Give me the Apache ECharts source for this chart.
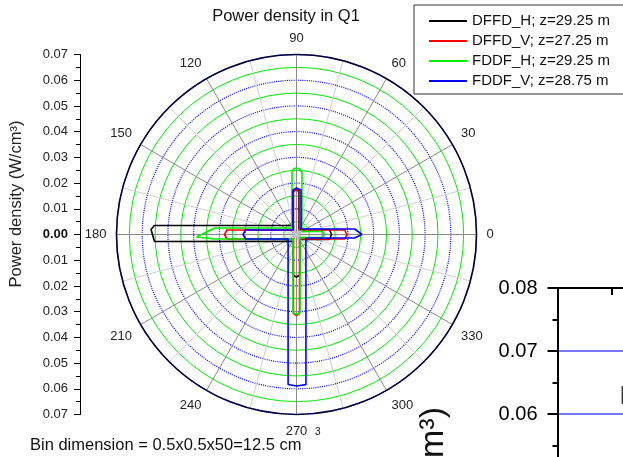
<!DOCTYPE html>
<html>
<head>
<meta charset="utf-8">
<script src="https://cdn.jsdelivr.net/npm/echarts@6/dist/echarts.min.js"></script>
<style>
html,body{margin:0;padding:0;background:#fff;}
#c{width:623px;height:457px;}
</style>
</head>
<body>
<div id="c"></div>
<script>
// ---- data: [angle (deg), power density (W/cm3)] ----
const seriesNames = ['DFFD_H; z=29.25 m', 'DFFD_V; z=27.25 m', 'FDDF_H; z=29.25 m', 'FDDF_V; z=28.75 m'];
const seriesColors = ['#000000', '#ff0000', '#00ee00', '#0000ff'];
const dffdH = [[0,0.0136],[8.6,0.0130],[63.4,0.0022],[86.7,0.0168],[90,0.0173],[95.3,0.0168],[114,0.0038],[176.4,0.0554],[178,0.0566],[182.8,0.0553],[243.4,0.0030],[265.1,0.0158],[270,0.0165],[274.9,0.0158],[305,0.0024],[351.4,0.0130],[360,0.0136]];
const dffdV = [[0,0.0196],[5.4,0.0188],[56.3,0.0021],[86.1,0.0170],[90,0.0177],[93.9,0.0170],[123.7,0.0021],[176.3,0.0271],[180,0.0280],[183.7,0.0271],[236.3,0.0021],[267.8,0.0308],[270,0.0315],[272.2,0.0308],[303.7,0.0021],[354.6,0.0188],[360,0.0196]];
const fddfH = [[0,0.0109],[6.6,0.0102],[28.6,0.0024],[84.9,0.0242],[87.4,0.0255],[90,0.0259],[92.6,0.0255],[94.1,0.0242],[124.7,0.0031],[175.5,0.0320],[181.4,0.0389],[183.1,0.0319],[232.1,0.0022],[267.4,0.0304],[270,0.0311],[272.6,0.0304],[319.4,0.0018],[353.4,0.0102],[360,0.0109]];
const fddfV = [[0,0.0255],[5.4,0.0227],[50.7,0.0028],[84.2,0.0174],[90,0.0181],[94.5,0.0174],[127.9,0.0022],[175,0.0199],[180,0.0208],[185,0.0199],[207.9,0.0037],[266.8,0.0584],[270,0.0589],[273.6,0.0585],[339.8,0.0039],[356.5,0.0226],[360,0.0255]];
const allSeries = [dffdH, dffdV, fddfH, fddfV];
const titleText = 'Power density in Q1';
const yName = 'Power density (W/cm\u00b3)';
const noteText = 'Bin dimension = 0.5x0.5x50=12.5 cm';

const FONT = "'Liberation Sans', Arial, sans-serif";
const chart = echarts.init(document.getElementById('c'), null, {renderer: 'canvas'});

const series = allSeries.map((d, i) => ({
  name: seriesNames[i],
  type: 'line',
  coordinateSystem: 'polar',
  polarIndex: 0,
  symbol: 'none',
  smooth: false,
  data: d.map(p => [p[1], p[0]]),
  lineStyle: {color: seriesColors[i], width: 1.6},
  itemStyle: {color: seriesColors[i]},
  z: 5 + i
}));

const option = {
  animation: false,
  backgroundColor: '#ffffff',
  textStyle: {fontFamily: FONT},
  legend: {
    orient: 'vertical', left: 414, top: 5,
    padding: [8.5, 20, 5.5, 15],
    itemGap: 5, itemWidth: 38, itemHeight: 2, icon: 'rect',
    borderColor: '#333', borderWidth: 1,
    textStyle: {fontSize: 15, color: '#111', lineHeight: 15, fontFamily: FONT},
    data: seriesNames
  },
  polar: {center: [296.5, 234.5], radius: 180},
  angleAxis: {
    type: 'value', min: 0, max: 360, interval: 30,
    startAngle: 0, clockwise: false,
    axisLine: {show: true, lineStyle: {color: '#00003a', width: 1.6}},
    axisTick: {show: false},
    axisLabel: {margin: 10, fontSize: 13, color: '#222', fontFamily: FONT,
      formatter: v => (v >= 360 ? '' : String(v))},
    splitLine: {show: true, lineStyle: {color: '#8a8a8a', width: 1}},
    minorTick: {show: false, splitNumber: 2},
    minorSplitLine: {show: true, lineStyle: {color: '#d0d0d0', width: 1}}
  },
  radiusAxis: {
    type: 'value', min: 0, max: 0.07, interval: 0.01,
    axisLine: {show: false}, axisTick: {show: false}, axisLabel: {show: false},
    splitLine: {show: true, lineStyle: {color: '#0000ff', width: 1.2, type: [1, 1.2]}},
    minorTick: {show: false, splitNumber: 2},
    minorSplitLine: {show: true, lineStyle: {color: '#00ee00', width: 1}}
  },
  grid: [
    {left: 80, top: 54.5, width: 1, height: 360, containLabel: false, outerBoundsMode: 'none'},
    {left: 557.5, top: 288, width: 218, height: 189, containLabel: false, outerBoundsMode: 'none'}
  ],
  xAxis: [
    {gridIndex: 0, type: 'value', show: false},
    {gridIndex: 1, type: 'value', position: 'top', min: 0, max: 4, interval: 1,
      axisLine: {show: true, onZero: false, lineStyle: {color: '#000', width: 2}},
      axisTick: {show: true, inside: true, length: 7, lineStyle: {color: '#000', width: 2}},
      axisLabel: {show: false}, splitLine: {show: false}}
  ],
  yAxis: [
    {gridIndex: 0, type: 'value', min: -0.07, max: 0.07, interval: 0.01,
      axisLine: {show: true, onZero: false, lineStyle: {color: '#000', width: 1}},
      axisTick: {show: true, length: 6, lineStyle: {color: '#000'}},
      minorTick: {show: true, splitNumber: 2, length: 4, lineStyle: {color: '#000'}},
      splitLine: {show: false},
      axisLabel: {margin: 12, fontSize: 13, color: '#222', fontFamily: FONT,
        formatter: v => (Math.abs(v) < 1e-9 ? '{b|0.00}' : Math.abs(v).toFixed(2)),
        rich: {b: {fontWeight: 'bold', fontSize: 13, color: '#111', fontFamily: FONT}}}
    },
    {gridIndex: 1, type: 'value', min: 0.05, max: 0.08, interval: 0.01,
      axisLine: {show: true, onZero: false, lineStyle: {color: '#000', width: 2}},
      axisTick: {show: true, length: 10, lineStyle: {color: '#000', width: 2}},
      minorTick: {show: true, splitNumber: 2, length: 5, lineStyle: {color: '#000', width: 2}},
      splitLine: {show: true, lineStyle: {color: '#7878ff', width: 2}},
      axisLabel: {margin: 20, fontSize: 20, color: '#000', fontFamily: FONT,
        formatter: v => v.toFixed(2)}
    }
  ],
  graphic: [
    {type: 'text', x: 286, y: 16, z: 100,
      style: {text: titleText, fontSize: 16.5, fontFamily: FONT, fill: '#111',
        align: 'center', verticalAlign: 'middle', textAlign: 'center', textVerticalAlign: 'middle'}},
    {type: 'text', x: 16, y: 204, rotation: Math.PI / 2, z: 100,
      style: {text: yName, fontSize: 16.5, fontFamily: FONT, fill: '#222',
        align: 'center', verticalAlign: 'middle', textAlign: 'center', textVerticalAlign: 'middle'}},
    {type: 'text', x: 30, y: 445, z: 100,
      style: {text: noteText, fontSize: 16.5, fontFamily: FONT, fill: '#111',
        align: 'left', verticalAlign: 'middle', textAlign: 'left', textVerticalAlign: 'middle'}},
    {type: 'text', x: 315, y: 432, z: 100,
      style: {text: '3', fontSize: 10, fontFamily: FONT, fill: '#111',
        align: 'left', verticalAlign: 'middle', textAlign: 'left', textVerticalAlign: 'middle'}},
    {type: 'text', x: 434, y: 407, rotation: Math.PI / 2, z: 100,
      style: {text: yName, fontSize: 34, fontFamily: FONT, fill: '#111',
        align: 'right', verticalAlign: 'middle', textAlign: 'right', textVerticalAlign: 'middle'}},
    {type: 'text', x: 619.5, y: 397, z: 100,
      style: {text: 'D', fontSize: 26, fontFamily: FONT, fill: '#333',
        align: 'left', verticalAlign: 'middle', textAlign: 'left', textVerticalAlign: 'middle'}}
  ],
  series: series
};
chart.setOption(option);
</script>
</body>
</html>
